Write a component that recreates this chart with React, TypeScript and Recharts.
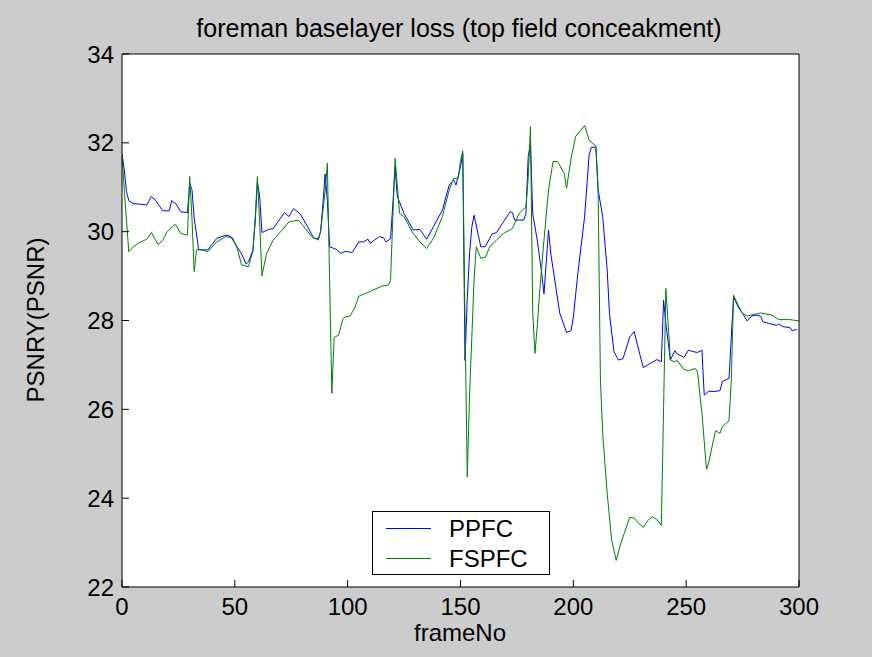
import React from 'react';
import { CartesianGrid, Line, LineChart, XAxis, YAxis } from 'recharts';

// [frameNo, PSNR]
const PPFC: [number, number][] = [
  [0, 31.75], [1, 31.4], [2, 30.9], [3, 30.7], [5, 30.63], [8, 30.62], [11, 30.6], [13, 30.79], [15, 30.7],
  [18, 30.47], [21, 30.47], [22, 30.7], [24, 30.62], [26, 30.45], [29, 30.43], [30, 31.09], [31, 30.95],
  [32, 30.3], [34, 29.59], [38, 29.59], [42, 29.85], [46, 29.92], [48, 29.9], [51, 29.66], [53, 29.5],
  [55, 29.27], [56, 29.32], [58, 29.58], [59, 30.2], [60, 31.1], [61, 30.8], [62, 29.98], [65, 30.05],
  [67, 30.07], [72, 30.43], [74, 30.34], [76, 30.52], [79, 30.4], [83, 30.04], [85, 29.85], [87, 29.85],
  [88, 30.0], [89, 30.6], [90, 31.3], [91, 30.7], [92, 29.66], [95, 29.6], [97, 29.51], [99, 29.56],
  [102, 29.53], [105, 29.77], [107, 29.77], [109, 29.83], [110, 29.74], [114, 29.89], [116, 29.86],
  [117, 29.77], [119, 29.84], [120, 30.6], [121, 31.46], [122, 30.79], [125, 30.41], [129, 30.04],
  [132, 30.05], [135, 29.83], [138, 30.11], [142, 30.49], [145, 31.05], [147, 31.16], [148, 31.05],
  [150, 31.46], [151, 31.76], [152, 27.1], [153, 28.5], [154, 29.5], [155, 30.1], [156, 30.37],
  [159, 29.66], [161, 29.66], [164, 29.95], [166, 29.98], [169, 30.22], [172, 30.45], [173, 30.43],
  [174, 30.26], [178, 30.26], [179, 30.4], [180, 31.69], [181, 31.99], [182, 30.41], [184, 29.81],
  [186, 29.06], [187, 28.6], [189, 30.04], [190, 29.51], [194, 28.16], [197, 27.73], [199, 27.77],
  [200, 28.08], [202, 29.06], [205, 30.34], [207, 31.73], [208, 31.9], [210, 31.9], [211, 30.94],
  [213, 30.34], [215, 29.14], [216, 28.16], [218, 27.3], [220, 27.11], [222, 27.14], [225, 27.63],
  [227, 27.75], [229, 27.33], [231, 26.94], [234, 27.03], [237, 27.12], [239, 27.07], [240, 28.46],
  [241, 27.93], [243, 27.11], [245, 27.32], [246, 27.25], [249, 27.17], [251, 27.33], [253, 27.3],
  [255, 27.28], [257, 27.33], [258, 26.32], [260, 26.41], [262, 26.4], [265, 26.42], [266, 26.62],
  [269, 26.7], [270, 27.63], [271, 28.53], [273, 28.31], [275, 28.16], [277, 27.99], [279, 28.1],
  [281, 28.12], [283, 28.1], [284, 27.97], [287, 27.93], [290, 27.89], [291, 27.92], [293, 27.86],
  [296, 27.84], [297, 27.77], [299, 27.8],
];

const FSPFC: [number, number][] = [
  [0, 31.75], [1, 30.94], [3, 29.55], [5, 29.66], [8, 29.76], [11, 29.83], [13, 29.98], [16, 29.71],
  [18, 29.8], [20, 30.0], [23, 30.15], [24, 30.15], [26, 29.96], [29, 29.92], [30, 31.24], [31, 30.3],
  [32, 29.1], [33, 29.59], [35, 29.6], [38, 29.55], [42, 29.77], [46, 29.89], [49, 29.86], [51, 29.63],
  [53, 29.25], [56, 29.21], [58, 29.55], [59, 30.3], [60, 31.24], [61, 30.2], [62, 29.0], [64, 29.5],
  [67, 29.81], [71, 30.04], [74, 30.22], [78, 30.26], [80, 30.15], [84, 29.89], [87, 29.81], [88, 30.0],
  [90, 30.9], [91, 31.54], [92, 28.9], [93, 26.36], [94, 27.62], [96, 27.67], [98, 28.05], [99, 28.08],
  [101, 28.1], [103, 28.27], [105, 28.55], [108, 28.61], [111, 28.68], [115, 28.77], [118, 28.8],
  [119, 28.9], [120, 30.3], [121, 31.65], [123, 30.41], [125, 30.34], [129, 29.96], [132, 29.77],
  [135, 29.62], [138, 29.85], [142, 30.34], [145, 30.94], [147, 31.2], [149, 31.2], [150, 31.6],
  [151, 31.82], [152, 28.0], [153, 24.48], [154, 26.3], [155, 27.6], [156, 28.91], [157, 29.66],
  [159, 29.4], [161, 29.42], [163, 29.66], [166, 29.81], [169, 29.96], [173, 30.07], [176, 30.41],
  [179, 30.56], [180, 31.2], [181, 32.36], [182, 28.2], [183, 27.26], [184, 27.86], [185, 28.6],
  [187, 29.81], [189, 30.94], [191, 31.58], [193, 31.58], [196, 31.31], [197, 30.98], [199, 31.65],
  [201, 32.14], [205, 32.39], [207, 32.06], [210, 31.93], [211, 30.86], [212, 26.66], [213, 25.46],
  [215, 24.11], [217, 23.05], [219, 22.6], [221, 22.98], [225, 23.57], [227, 23.55], [229, 23.43],
  [231, 23.34], [233, 23.5], [235, 23.58], [237, 23.52], [239, 23.39], [240, 26.06], [241, 28.72],
  [242, 27.93], [243, 27.11], [245, 27.07], [246, 27.1], [249, 26.9], [251, 26.87], [254, 26.92],
  [255, 26.85], [257, 25.91], [259, 24.65], [260, 24.8], [263, 25.52], [265, 25.46], [266, 25.61],
  [269, 25.74], [270, 26.66], [271, 28.57], [273, 28.35], [275, 28.16], [277, 28.1], [283, 28.17],
  [288, 28.12], [291, 28.02], [296, 28.02], [300, 27.99],
];

const xTicks = [0, 50, 100, 150, 200, 250, 300];
const yTicks = [22, 24, 26, 28, 30, 32, 34];
const seriesNames = ['PPFC', 'FSPFC'];
const seriesColors = ['#0000ff', '#008000'];

const ppfcData = PPFC.map(([frame, psnr]) => ({ frame, psnr }));
const fspfcData = FSPFC.map(([frame, psnr]) => ({ frame, psnr }));

const font = '"Liberation Sans", Arial, sans-serif';

function LegendBox() {
  return (
    <svg width={178} height={64} style={{ position: 'absolute', left: 372, top: 511 }}>
      <rect x={0.5} y={0.5} width={177} height={63} fill="#fff" stroke="#000" />
      {seriesNames.map((name, i) => (
        <g key={name}>
          <line x1={14} x2={59} y1={17.5 + i * 30} y2={17.5 + i * 30} stroke={seriesColors[i]} />
          <text x={77} y={26 + i * 30} fontSize={24} fontFamily={font}>{name}</text>
        </g>
      ))}
    </svg>
  );
}

export default function App() {
  return (
    <div style={{ position: 'absolute', left: 0, top: 0, width: 872, height: 657, background: '#cccccc', fontFamily: font }}>
      <LineChart width={872} height={657} margin={{ top: 44, right: 63, bottom: 40, left: 82 }}>
        <CartesianGrid fill="#ffffff" horizontal={false} vertical={false} />
        <XAxis
          xAxisId="b" dataKey="frame" type="number" domain={[0, 300]} ticks={xTicks} allowDataOverflow
          orientation="bottom" height={30} stroke="#000" tickSize={-7} tickMargin={18}
          tick={{ fill: '#000', fontSize: 24, fontFamily: font }}
        />
        <XAxis
          xAxisId="t" dataKey="frame" type="number" domain={[0, 300]} ticks={xTicks} allowDataOverflow
          orientation="top" height={10} stroke="#000" tickSize={-7} tick={false}
        />
        <YAxis
          yAxisId="l" type="number" domain={[22, 34]} ticks={yTicks} allowDataOverflow
          orientation="left" width={40} stroke="#000" tickSize={-7} tickMargin={15}
          tick={{ fill: '#000', fontSize: 24, fontFamily: font }}
        />
        <YAxis
          yAxisId="r" type="number" domain={[22, 34]} ticks={yTicks} allowDataOverflow
          orientation="right" width={10} stroke="#000" tickSize={-7} tick={false}
        />
        <Line
          data={ppfcData} xAxisId="b" yAxisId="l" dataKey="psnr" name={seriesNames[0]} type="linear"
          stroke={seriesColors[0]} strokeWidth={1} dot={false} isAnimationActive={false}
        />
        <Line
          data={fspfcData} xAxisId="b" yAxisId="l" dataKey="psnr" name={seriesNames[1]} type="linear"
          stroke={seriesColors[1]} strokeWidth={1} dot={false} isAnimationActive={false}
        />
      </LineChart>
      <LegendBox />
      <svg width={872} height={657} style={{ position: 'absolute', left: 0, top: 0, pointerEvents: 'none' }}>
        <text x={459} y={37} textAnchor="middle" fontSize={25} fontFamily={font}>
          foreman baselayer loss (top field conceakment)
        </text>
        <text x={460} y={641} textAnchor="middle" fontSize={24} fontFamily={font}>frameNo</text>
        <text
          x={44} y={320} textAnchor="middle" fontSize={24} fontFamily={font}
          transform="rotate(-90 44 320)"
        >
          PSNRY(PSNR)
        </text>
      </svg>
    </div>
  );
}
